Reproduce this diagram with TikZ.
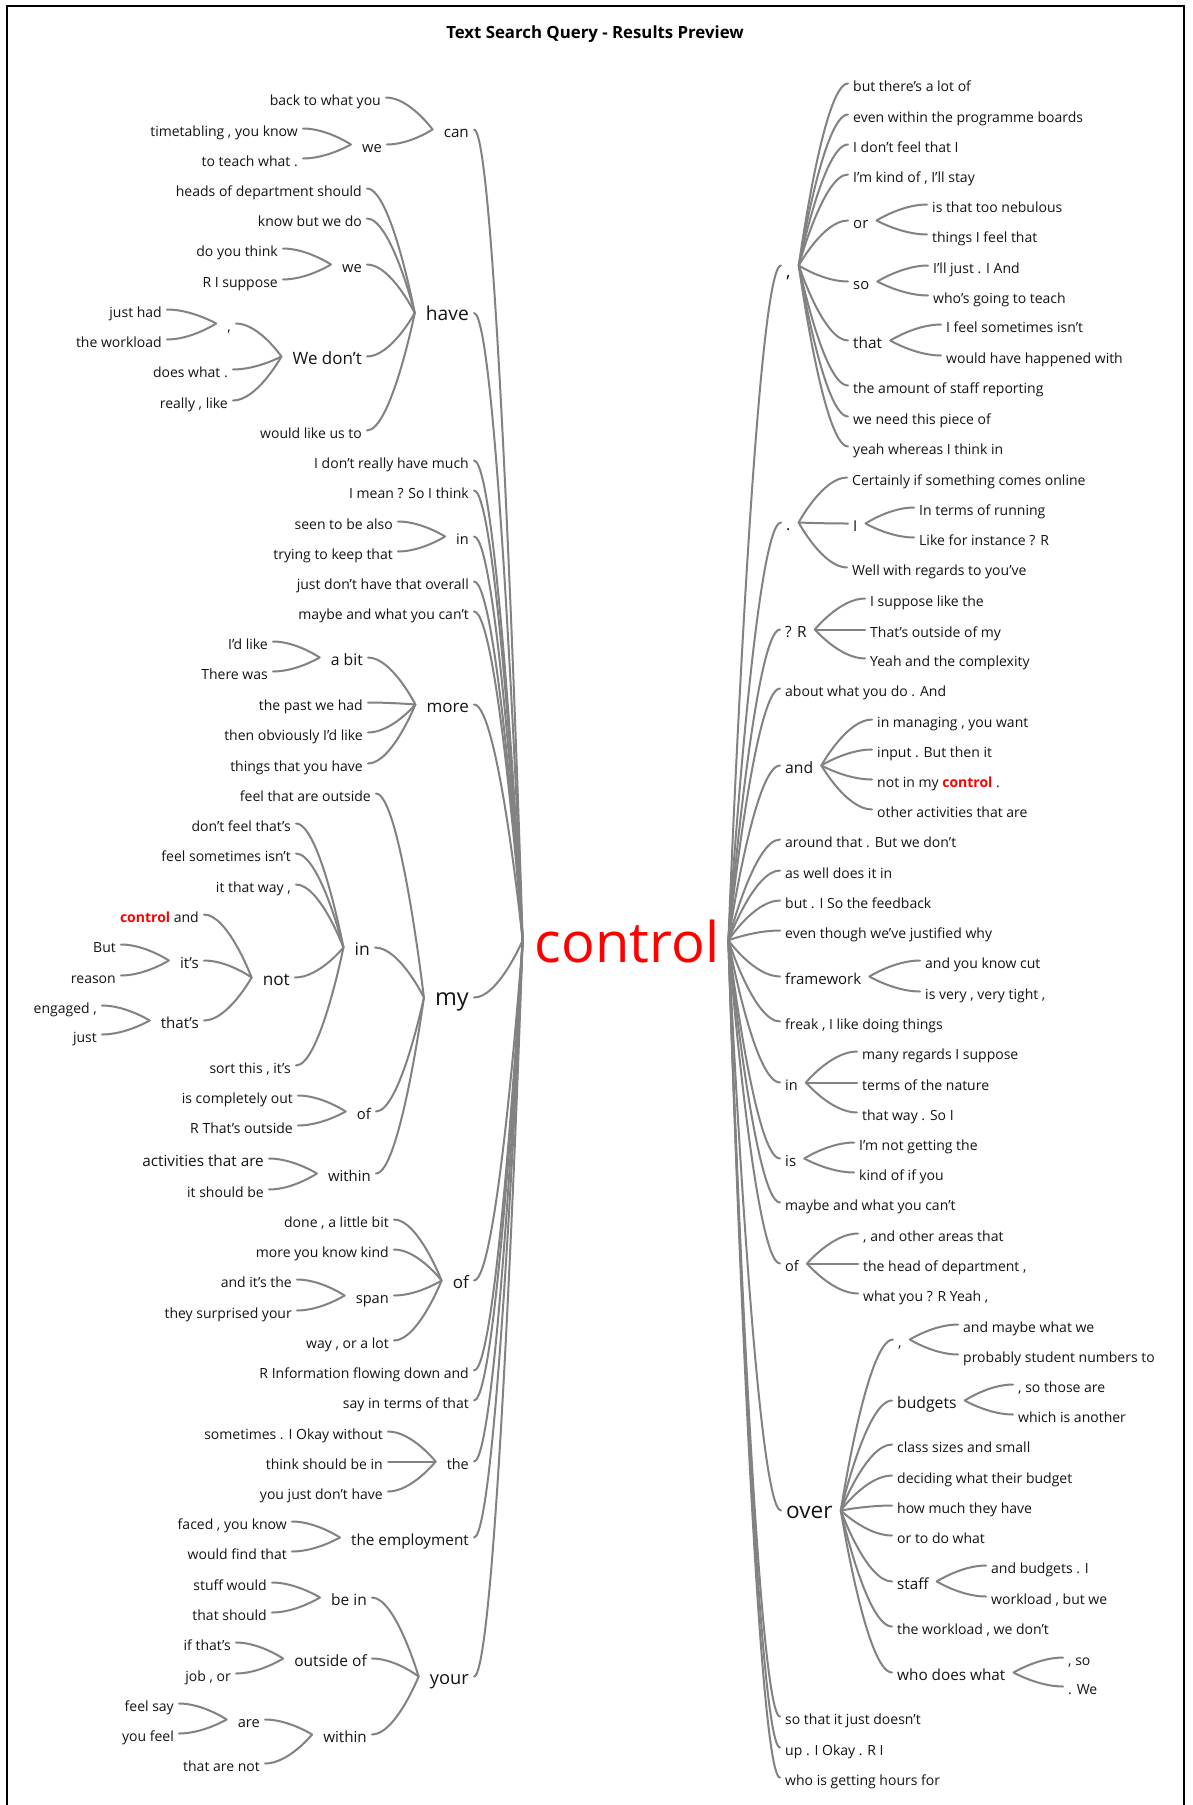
\documentclass[tikz,border=0pt]{standalone}
\usepackage{fontspec}
\setmainfont{Open Sans}
\usetikzlibrary{calc}

\definecolor{txt}{RGB}{20,20,20}
\definecolor{lnk}{RGB}{130,130,130}
\definecolor{hit}{RGB}{255,0,0}
\newcommand\wsize[1]{\fontsize{#1}{#1}\selectfont}
\newcommand\hitword{{\bfseries\color{hit}control}}
\newcommand\lowcomma{\raisebox{-4pt}{,}}

\tikzset{
  lword/.style={anchor=mid east, yshift=-2.5pt, inner sep=0pt, text=txt, font={\wsize{14}}},
  rword/.style={anchor=mid west, yshift=-2.5pt, inner sep=0pt, text=txt, font={\wsize{14}}},
  sz/.style={font={\wsize{#1}}},
  link/.style={draw=lnk, line width=2pt, line cap=round},
}

% left branch: child (left) to parent (right)
\newcommand\lk[2]{\draw[link] let \p1=([xshift=5pt,yshift=5pt]#1.mid east),
  \p2=([xshift=-11pt,yshift=5pt]#2.mid west) in
  (\p1) .. controls ({(\x1+\x2)/2},\y1) and (\p2) .. (\p2);}
% left branch ending at the root
\newcommand\lkc[1]{\draw[link] let \p1=([xshift=5pt,yshift=5pt]#1.mid east),
  \p2=(cL) in
  (\p1) .. controls ({(\x1+\x2)/2},\y1) and (\p2) .. (\p2);}
% right branch: parent (left) to child (right)
\newcommand\rk[2]{\draw[link] let \p1=([xshift=8pt,yshift=5pt]#1.mid east),
  \p2=([xshift=-5pt,yshift=5pt]#2.mid west) in
  (\p1) .. controls (\p1) and ({(\x1+\x2)/2},\y2) .. (\p2);}
% right branch starting at the root
\newcommand\rkc[1]{\draw[link] let \p1=(cR),
  \p2=([xshift=-5pt,yshift=5pt]#1.mid west) in
  (\p1) .. controls (\p1) and ({(\x1+\x2)/2},\y2) .. (\p2);}

\begin{document}
\begin{tikzpicture}[x=1pt,y=-1pt]
\useasboundingbox (0,0) rectangle (1192,1805);
\fill[white] (0,0) rectangle (1192,1805);
\draw[line width=2pt,black] (7,1810) -- (7,6) -- (1184,6) -- (1184,1810);

\node[font={\bfseries\wsize{16.8}}, text=black, inner sep=0pt, anchor=base] (title) at (595,38) {Text Search Query - Results Preview};

% root
\node[inner sep=0pt, anchor=mid, text=hit, font={\wsize{56}}] (ctl) at (627,960.3) {control};
\coordinate (cL) at ([xshift=-12pt,yshift=20pt]ctl.mid west);
\coordinate (cR) at ([xshift=9pt,yshift=20pt]ctl.mid east);

% ---------------- left side ----------------
\node[lword,sz=15.2] (can) at (469,132) {can};
\node[lword] (can1) at (381,100) {back to what you};
\node[lword,sz=14.7] (canwe) at (382,147) {we};
\node[lword] (canwe1) at (298,131) {timetabling , you know};
\node[lword] (canwe2) at (298,161) {to teach what .};

\node[lword,sz=19.2] (have) at (469,315.5) {have};
\node[lword] (have1) at (362,191) {heads of department should};
\node[lword] (have2) at (362,221) {know but we do};
\node[lword,sz=14.7] (havewe) at (362,267) {we};
\node[lword] (havewe1) at (278,251) {do you think};
\node[lword] (havewe2) at (278,282) {R I suppose};
\node[lword,sz=17] (wedont) at (362,359) {We don’t};
\node[lword] (comma) at (231,326) {,};
\node[lword] (comma1) at (162,312) {just had};
\node[lword] (comma2) at (162,342) {the workload};
\node[lword] (wedont2) at (228,372) {does what .};
\node[lword] (wedont3) at (228,403) {really , like};
\node[lword] (have5) at (362,433) {would like us to};

\node[lword] (l3) at (469,463) {I don’t really have much};
\node[lword] (l4) at (469,493) {I mean ? So I think};
\node[lword,sz=14.5] (lin) at (469,539) {in};
\node[lword] (lin1) at (393,524) {seen to be also};
\node[lword] (lin2) at (393,554) {trying to keep that};
\node[lword] (l6) at (469,584) {just don’t have that overall};
\node[lword] (l7) at (469,614) {maybe and what you can’t};

\node[lword,sz=17] (more) at (469,707) {more};
\node[lword,sz=15.7] (abit) at (363,660) {a bit};
\node[lword] (abit1) at (268,644) {I’d like};
\node[lword] (abit2) at (268,674) {There was};
\node[lword] (more2) at (363,705) {the past we had};
\node[lword] (more3) at (363,735) {then obviously I’d like};
\node[lword] (more4) at (363,766) {things that you have};

\node[lword,sz=23.5] (my) at (469,1000) {my};
\node[lword] (my1) at (371,796) {feel that are outside};
\node[lword,sz=17.5] (myin) at (370,950) {in};
\node[lword] (myin1) at (291,826) {don’t feel that’s};
\node[lword] (myin2) at (291,856) {feel sometimes isn’t};
\node[lword] (myin3) at (291,887) {it that way ,};
\node[lword,sz=17.2] (not) at (290,980) {not};
\node[lword] (not1) at (199,917) {\hitword{} and};
\node[lword,sz=15.1] (its) at (199,963) {it’s};
\node[lword] (its1) at (116,947) {But};
\node[lword] (its2) at (116,978) {reason};
\node[lword,sz=15.1] (thats) at (199,1023) {that’s};
\node[lword] (thats1) at (97,1008) {engaged ,};
\node[lword] (thats2) at (97,1037) {just};
\node[lword] (myin5) at (291,1068) {sort this , it’s};
\node[lword,sz=14.8] (myof) at (371,1114) {of};
\node[lword] (myof1) at (293,1098) {is completely out};
\node[lword] (myof2) at (293,1128) {R That’s outside};
\node[lword,sz=14.9] (mywithin) at (371,1176) {within};
\node[lword,sz=15.3] (mywithin1) at (264,1161) {activities that are};
\node[lword] (mywithin2) at (264,1192) {it should be};

\node[lword,sz=17] (lof) at (469,1283) {of};
\node[lword] (lof1) at (389,1222) {done , a little bit};
\node[lword] (lof2) at (389,1252) {more you know kind};
\node[lword,sz=14.6] (span) at (389,1298) {span};
\node[lword] (span1) at (292,1282) {and it’s the};
\node[lword] (span2) at (292,1313) {they surprised your};
\node[lword] (lof4) at (389,1343) {way , or a lot};
\node[lword] (l11) at (469,1373) {R Information flowing down and};
\node[lword] (l12) at (469,1403) {say in terms of that};
\node[lword,sz=14.4] (lthe) at (469,1464) {the};
\node[lword] (lthe1) at (383,1434) {sometimes . I Okay without};
\node[lword] (lthe2) at (383,1464) {think should be in};
\node[lword] (lthe3) at (383,1494) {you just don’t have};
\node[lword,sz=15.3] (emp) at (469,1540) {the employment};
\node[lword] (emp1) at (287,1524) {faced , you know};
\node[lword] (emp2) at (287,1554) {would find that};
\node[lword,sz=18.3] (your) at (469,1679) {your};
\node[lword,sz=15.5] (bein) at (367,1600) {be in};
\node[lword] (bein1) at (267,1585) {stuff would};
\node[lword] (bein2) at (267,1615) {that should};
\node[lword,sz=15.5] (outof) at (367,1661) {outside of};
\node[lword] (outof1) at (231,1645) {if that’s};
\node[lword] (outof2) at (231,1676) {job , or};
\node[lword,sz=15.2] (ywithin) at (367,1737) {within};
\node[lword,sz=14.6] (are) at (260,1722) {are};
\node[lword] (are1) at (174,1706) {feel say};
\node[lword] (are2) at (174,1736) {you feel};
\node[lword] (ywithin2) at (260,1766) {that are not};

% ---------------- right side ----------------
\node[rword,sz=18] (rc) at (786,268) {\lowcomma};
\node[rword] (rc1) at (853,86) {but there’s a lot of};
\node[rword] (rc2) at (853,117) {even within the programme boards};
\node[rword] (rc3) at (853,147) {I don’t feel that I};
\node[rword] (rc4) at (853,177) {I’m kind of , I’ll stay};
\node[rword,sz=15] (ror) at (853,223) {or};
\node[rword] (ror1) at (932,207) {is that too nebulous};
\node[rword] (ror2) at (932,237) {things I feel that};
\node[rword,sz=14.8] (rso) at (853,284) {so};
\node[rword] (rso1) at (933,268) {I’ll just . I And};
\node[rword] (rso2) at (933,298) {who’s going to teach};
\node[rword,sz=15.4] (rthat) at (853,343) {that};
\node[rword] (rthat1) at (946,327) {I feel sometimes isn’t};
\node[rword] (rthat2) at (946,358) {would have happened with};
\node[rword] (rc8) at (853,388) {the amount of staff reporting};
\node[rword] (rc9) at (853,419) {we need this piece of};
\node[rword] (rc10) at (853,449) {yeah whereas I think in};

\node[rword,sz=16] (rdot) at (786,525) {.};
\node[rword] (rdot1) at (852,480) {Certainly if something comes online};
\node[rword,sz=15] (rI) at (853,526) {I};
\node[rword] (rI1) at (919,510) {In terms of running};
\node[rword] (rI2) at (919,540) {Like for instance ? R};
\node[rword] (rdot3) at (852,570) {Well with regards to you’ve};

\node[rword,sz=15.4] (rqr) at (785,632) {? R};
\node[rword] (rqr1) at (870,601) {I suppose like the};
\node[rword] (rqr2) at (870,632) {That’s outside of my};
\node[rword] (rqr3) at (870,661) {Yeah and the complexity};
\node[rword] (r4) at (785,691) {about what you do . And};
\node[rword,sz=15.7] (rand) at (785,768) {and};
\node[rword] (rand1) at (877,722) {in managing , you want};
\node[rword] (rand2) at (877,752) {input . But then it};
\node[rword] (rand3) at (877,782) {not in my \hitword{} .};
\node[rword] (rand4) at (877,812) {other activities that are};
\node[rword] (r6) at (785,842) {around that . But we don’t};
\node[rword] (r7) at (785,873) {as well does it in};
\node[rword] (r8) at (785,903) {but . I So the feedback};
\node[rword] (r9) at (785,933) {even though we’ve justified why};
\node[rword,sz=15] (rfw) at (785,979) {framework};
\node[rword] (rfw1) at (925,963) {and you know cut};
\node[rword] (rfw2) at (925,994) {is very , very tight ,};
\node[rword] (r11) at (785,1024) {freak , I like doing things};
\node[rword,sz=14.5] (rin) at (785,1085) {in};
\node[rword] (rin1) at (862,1054) {many regards I suppose};
\node[rword] (rin2) at (862,1085) {terms of the nature};
\node[rword] (rin3) at (862,1115) {that way . So I};
\node[rword,sz=15] (ris) at (785,1161) {is};
\node[rword] (ris1) at (859,1145) {I’m not getting the};
\node[rword] (ris2) at (859,1175) {kind of if you};
\node[rword] (r14) at (785,1205) {maybe and what you can’t};
\node[rword,sz=14.5] (rof) at (785,1266) {of};
\node[rword] (rof1) at (863,1236) {, and other areas that};
\node[rword] (rof2) at (863,1266) {the head of department ,};
\node[rword] (rof3) at (863,1296) {what you ? R Yeah ,};
\node[rword,sz=22.6] (over) at (786,1513) {over};
\node[rword] (oc) at (898,1342) {,};
\node[rword] (oc1) at (963,1327) {and maybe what we};
\node[rword] (oc2) at (963,1357) {probably student numbers to};
\node[rword,sz=15.7] (obud) at (897,1403) {budgets};
\node[rword] (obud1) at (1018,1387) {, so those are};
\node[rword] (obud2) at (1018,1417) {which is another};
\node[rword] (o3) at (897,1447) {class sizes and small};
\node[rword] (o4) at (897,1478) {deciding what their budget};
\node[rword] (o5) at (897,1508) {how much they have};
\node[rword] (o6) at (897,1538) {or to do what};
\node[rword,sz=15.2] (ostaff) at (897,1584) {staff};
\node[rword] (ostaff1) at (991,1568) {and budgets . I};
\node[rword] (ostaff2) at (991,1599) {workload , but we};
\node[rword] (o8) at (897,1629) {the workload , we don’t};
\node[rword,sz=15.3] (owho) at (897,1675) {who does what};
\node[rword] (owho1) at (1068,1660) {, so};
\node[rword] (owho2) at (1068,1689) {. We};
\node[rword] (r17) at (785,1719) {so that it just doesn’t};
\node[rword] (r18) at (785,1750) {up . I Okay . R I};
\node[rword] (r19) at (785,1780) {who is getting hours for};

% ---------------- connectors, left ----------------
\foreach \nm in {can,have,l3,l4,lin,l6,l7,more,my,lof,l11,l12,lthe,emp,your} {\lkc{\nm}}
\lk{can1}{can} \lk{canwe}{can} \lk{canwe1}{canwe} \lk{canwe2}{canwe}
\foreach \nm in {have1,have2,havewe,wedont,have5} {\lk{\nm}{have}}
\lk{havewe1}{havewe} \lk{havewe2}{havewe}
\lk{comma}{wedont} \lk{wedont2}{wedont} \lk{wedont3}{wedont}
\lk{comma1}{comma} \lk{comma2}{comma}
\lk{lin1}{lin} \lk{lin2}{lin}
\foreach \nm in {abit,more2,more3,more4} {\lk{\nm}{more}}
\lk{abit1}{abit} \lk{abit2}{abit}
\foreach \nm in {my1,myin,myof,mywithin} {\lk{\nm}{my}}
\foreach \nm in {myin1,myin2,myin3,not,myin5} {\lk{\nm}{myin}}
\lk{not1}{not} \lk{its}{not} \lk{thats}{not}
\lk{its1}{its} \lk{its2}{its} \lk{thats1}{thats} \lk{thats2}{thats}
\lk{myof1}{myof} \lk{myof2}{myof} \lk{mywithin1}{mywithin} \lk{mywithin2}{mywithin}
\foreach \nm in {lof1,lof2,span,lof4} {\lk{\nm}{lof}}
\lk{span1}{span} \lk{span2}{span}
\lk{lthe1}{lthe} \lk{lthe2}{lthe} \lk{lthe3}{lthe}
\lk{emp1}{emp} \lk{emp2}{emp}
\lk{bein}{your} \lk{outof}{your} \lk{ywithin}{your}
\lk{bein1}{bein} \lk{bein2}{bein} \lk{outof1}{outof} \lk{outof2}{outof}
\lk{are}{ywithin} \lk{ywithin2}{ywithin} \lk{are1}{are} \lk{are2}{are}

% ---------------- connectors, right ----------------
\foreach \nm in {rc,rdot,rqr,r4,rand,r6,r7,r8,r9,rfw,r11,rin,ris,r14,rof,over,r17,r18,r19} {\rkc{\nm}}
\foreach \nm in {rc1,rc2,rc3,rc4,ror,rso,rthat,rc8,rc9,rc10} {\rk{rc}{\nm}}
\rk{ror}{ror1} \rk{ror}{ror2} \rk{rso}{rso1} \rk{rso}{rso2} \rk{rthat}{rthat1} \rk{rthat}{rthat2}
\rk{rdot}{rdot1} \rk{rdot}{rI} \rk{rdot}{rdot3} \rk{rI}{rI1} \rk{rI}{rI2}
\rk{rqr}{rqr1} \rk{rqr}{rqr2} \rk{rqr}{rqr3}
\foreach \nm in {rand1,rand2,rand3,rand4} {\rk{rand}{\nm}}
\rk{rfw}{rfw1} \rk{rfw}{rfw2}
\rk{rin}{rin1} \rk{rin}{rin2} \rk{rin}{rin3}
\rk{ris}{ris1} \rk{ris}{ris2}
\rk{rof}{rof1} \rk{rof}{rof2} \rk{rof}{rof3}
\foreach \nm in {oc,obud,o3,o4,o5,o6,ostaff,o8,owho} {\rk{over}{\nm}}
\rk{oc}{oc1} \rk{oc}{oc2} \rk{obud}{obud1} \rk{obud}{obud2}
\rk{ostaff}{ostaff1} \rk{ostaff}{ostaff2} \rk{owho}{owho1} \rk{owho}{owho2}
\end{tikzpicture}
\end{document}
